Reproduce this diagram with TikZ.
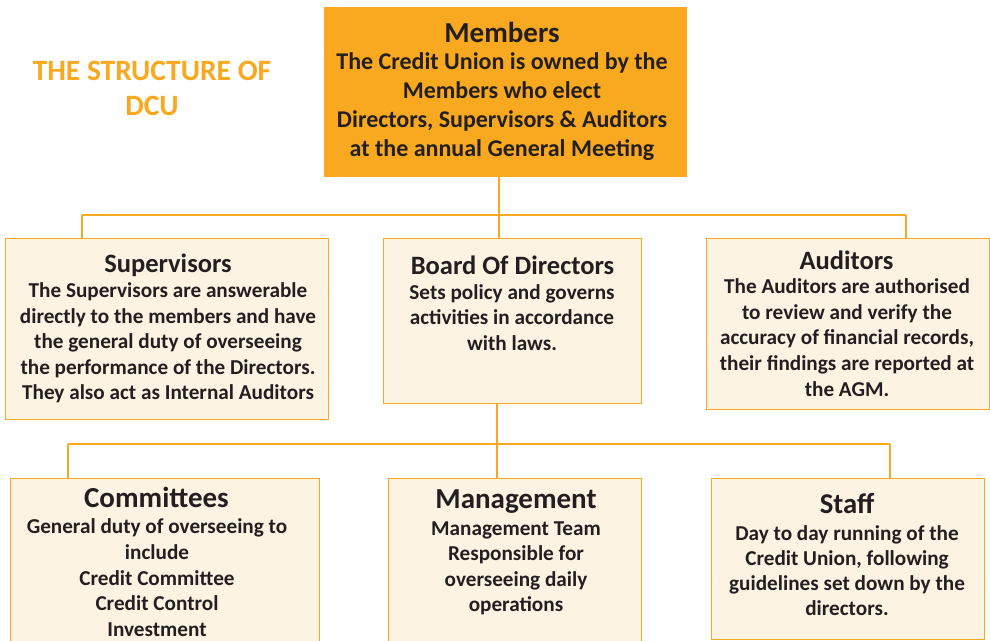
\documentclass[tikz,border=0pt]{standalone}
\usepackage{fontspec}
\setmainfont{Carlito}
\definecolor{dcuorange}{HTML}{F8A91F}
\definecolor{dcucream}{HTML}{FDF3E3}
\definecolor{dcutext}{HTML}{231F20}
\newcommand{\fs}[2]{\fontsize{#1}{#2}\selectfont}
\begin{document}
\begin{tikzpicture}[x=1pt,y=-1pt,
  link/.style={draw=dcuorange,line width=2.4pt},
  topbox/.style={fill=dcuorange,draw=none,inner sep=0pt,anchor=north west},
  unitbox/.style={fill=dcucream,draw=dcuorange,line width=1.4pt,inner sep=0pt,anchor=north west},
  boxtext/.style={text=dcutext,font=\bfseries,align=center,inner sep=0pt,anchor=north},
  headline/.style={text=dcuorange,font=\bfseries\fs{29.5}{35},align=center,inner sep=0pt}]
\useasboundingbox (0,0) rectangle (990,640);
\clip (0,0) rectangle (990,640);
\fill[white] (0,0) rectangle (990,640);

% heading
\node[headline] (title) at (152,88.5) {THE STRUCTURE OF\\DCU};

% boxes
\node[topbox,minimum width=363pt,minimum height=170pt] (members) at (324,7) {};
\node[unitbox,minimum width=323pt,minimum height=181pt] (sup) at (5,238) {};
\node[unitbox,minimum width=258pt,minimum height=165pt] (board) at (383,238) {};
\node[unitbox,minimum width=283pt,minimum height=171pt] (aud) at (706,238) {};
\node[unitbox,minimum width=309pt,minimum height=200pt] (com) at (10,478) {};
\node[unitbox,minimum width=253pt,minimum height=200pt] (man) at (388,478) {};
\node[unitbox,minimum width=273pt,minimum height=161pt] (staff) at (711,478) {};

% junction points of the connectors
\coordinate (j1) at (499,215);
\coordinate (j1l) at (82,215);
\coordinate (j1r) at (906,215);
\coordinate (j2) at (497,444);
\coordinate (j2l) at (68,444);
\coordinate (j2r) at (890,444);

\draw[link] (members.south -| j1) -- (board.north -| j1);
\draw[link] (j1l) -- (j1r);
\draw[link] (j1l) -- (sup.north -| j1l);
\draw[link] (j1r) -- (aud.north -| j1r);
\draw[link] (board.south -| j2) -- (man.north -| j2);
\draw[link] (j2l) -- (j2r);
\draw[link] (j2l) -- (com.north -| j2l);
\draw[link] (j2r) -- (staff.north -| j2r);

% texts
\node[boxtext,font=\bfseries\fs{29}{32}] (membersT) at (502,21.5) {Members};
\node[boxtext,font=\bfseries\fs{24}{29}] (membersB) at (502,52) {The Credit Union is owned by the\\Members who elect\\Directors, Supervisors \& Auditors\\at the annual General Meeting};

\node[boxtext,font=\bfseries\fs{26.5}{29}] (supT) at (168,253.5) {Supervisors};
\node[boxtext,font=\bfseries\fs{21.2}{25.5}] (supB) at (168,282.5) {The Supervisors are answerable\\directly to the members and have\\the general duty of overseeing\\the performance of the Directors.\\They also act as Internal Auditors};

\node[boxtext,font=\bfseries\fs{26.5}{29}] (boardT) at (512.5,255.5) {Board Of Directors};
\node[boxtext,font=\bfseries\fs{21.2}{25.3}] (boardB) at (512,284.5) {Sets policy and governs\\activities in accordance\\with laws.};

\node[boxtext,font=\bfseries\fs{26.5}{29}] (audT) at (846.5,250.5) {Auditors};
\node[boxtext,font=\bfseries\fs{21.2}{25.7}] (audB) at (847,278.5) {The Auditors are authorised\\to review and verify the\\accuracy of financial records,\\their findings are reported at\\the AGM.};

\node[boxtext,font=\bfseries\fs{29}{32}] (comT) at (156.5,487) {Committees};
\node[boxtext,font=\bfseries\fs{21.2}{25.75}] (comB) at (157,518.5) {General duty of overseeing to\\include\\Credit Committee\\Credit Control\\Investment};

\node[boxtext,font=\bfseries\fs{29}{32}] (manT) at (516,489.5) {Management};
\node[boxtext,font=\bfseries\fs{21.2}{25.3}] (manB) at (516,521.5) {Management Team\\Responsible for\\overseeing daily\\operations};

\node[boxtext,font=\bfseries\fs{28.7}{31}] (staffT) at (847,493.5) {Staff};
\node[boxtext,font=\bfseries\fs{21.2}{25}] (staffB) at (847,525.5) {Day to day running of the\\Credit Union, following\\guidelines set down by the\\directors.};
\end{tikzpicture}
\end{document}
